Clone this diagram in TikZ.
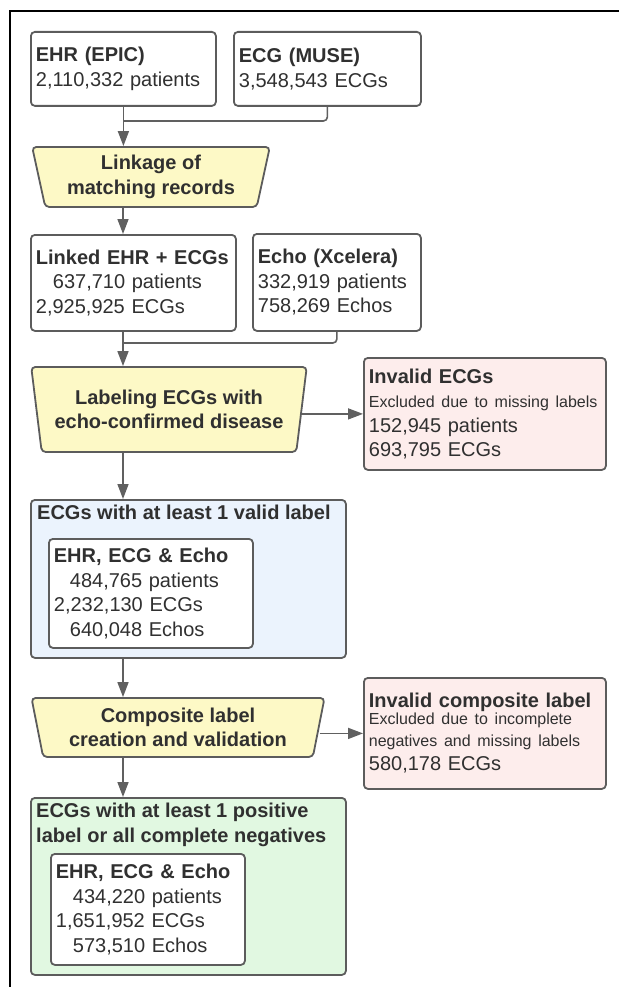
\documentclass[tikz,border=0pt]{standalone}
\usepackage{fontspec}
\setmainfont{Liberation Sans}
\usetikzlibrary{shapes.geometric,arrows.meta,calc}
\definecolor{bordc}{HTML}{5C5C5C}
\definecolor{linec}{HTML}{606060}
\definecolor{txtc}{HTML}{303030}
\definecolor{yel}{HTML}{FDF9C6}
\definecolor{pinkc}{HTML}{FDEDEC}
\definecolor{bluec}{HTML}{EBF3FD}
\definecolor{greenc}{HTML}{E1F8E1}
\tikzset{
 base/.style={draw=bordc, line width=1.8pt, rounded corners=4pt, text=txtc, font=\fontsize{20}{24.5}\selectfont},
 box/.style={base, fill=white, anchor=north west, align=left, inner xsep=5pt, inner ysep=0pt},
 proc/.style={base, fill=yel, shape=trapezium, trapezium angle=76.5, shape border rotate=180, trapezium stretches=true, align=center, inner xsep=0pt, inner ysep=0pt, font=\bfseries\fontsize{20}{24.5}\selectfont},
 ttl/.style={anchor=north west, inner sep=0pt, text=txtc, align=left, font=\bfseries\fontsize{20}{24.5}\selectfont},
 conn/.style={draw=linec, line width=1.6pt},
 arr/.style={conn, -{Triangle[length=15pt,width=11pt]}},
}
\newcommand\smallfs{\fontsize{16}{20}\selectfont}
\begin{document}
\begin{tikzpicture}[x=1pt,y=-1pt]
\useasboundingbox (0,0) rectangle (619,987);
\draw[black, line width=1.3pt] (619,11) -- (10,11) -- (10,987);
\coordinate (spine) at (123,0);

\node[box, minimum width=185, minimum height=74, text width=175] (ehr) at (30,31) {\textbf{EHR (EPIC)}\\2,110,332 patients};
\node[box, minimum width=187, minimum height=74, text width=177] (ecg) at (233,31) {\textbf{ECG (MUSE)}\\3,548,543 ECGs};
\node[proc, minimum width=238, minimum height=60] (link) at (151,177) {Linkage of\\matching records};
\coordinate (j1) at (123,121);
\draw[conn, rounded corners=4pt] (ecg.south) |- (j1);
\draw[arr] (ehr.south) -- (ehr.south |- link.north);

\node[box, minimum width=205, minimum height=96, text width=195] (linked) at (30,234) {\textbf{Linked EHR + ECGs}\\\hspace*{17pt}637,710 patients\\2,925,925 ECGs};
\node[box, minimum width=168, minimum height=97, text width=158] (echo) at (252,233) {\textbf{Echo (Xcelera)}\\332,919 patients\\758,269 Echos};
\draw[arr] (spine |- link.south) -- (spine |- linked.north);
\node[proc, minimum width=276, minimum height=85] (lab) at (169,409.5) {Labeling ECGs with\\echo-confirmed disease};
\coordinate (j2) at (123,343);
\draw[conn, rounded corners=4pt] (echo.south) |- (j2);
\draw[arr] (spine |- linked.south) -- (spine |- lab.north);

\node[box, fill=pinkc, minimum width=242, minimum height=112, text width=232] (inv1) at (363,357) {\textbf{Invalid ECGs}\\{\smallfs Excluded due to missing labels}\\152,945 patients\\693,795 ECGs};
\draw[arr] (inv1.west -| lab.east) -- (inv1.west);

\node[box, fill=bluec, minimum width=315, minimum height=158] (blue) at (30,499) {};
\node[ttl] (bluet) at (37,505) {ECGs with at least 1 valid label};
\node[box, minimum width=204, minimum height=109, text width=194] (in1) at (48,538) {\textbf{EHR, ECG \& Echo}\\\hspace*{16pt}484,765 patients\\2,232,130 ECGs\\\hspace*{16pt}640,048 Echos};
\draw[arr] (spine |- lab.south) -- (spine |- blue.north);

\node[proc, minimum width=294, minimum height=59] (comp) at (178,727.5) {Composite label\\creation and validation};
\draw[arr] (spine |- blue.south) -- (spine |- comp.north);
\node[box, fill=pinkc, minimum width=242, minimum height=111, text width=232] (inv2) at (363,677) {\textbf{Invalid composite label}\\[-3pt]{\smallfs Excluded due to incomplete\\[-3pt]negatives and missing labels}\\580,178 ECGs};
\draw[arr] (inv2.west -| comp.east) -- (inv2.west);

\node[box, fill=greenc, minimum width=315, minimum height=177] (green) at (30,797) {};
\node[ttl] (greent) at (36,803) {ECGs with at least 1 positive\\label or all complete negatives};
\node[box, minimum width=194, minimum height=111, text width=184] (in2) at (50,853) {\textbf{EHR, ECG \& Echo}\\\hspace*{17pt}434,220 patients\\1,651,952 ECGs\\\hspace*{17pt}573,510 Echos};
\draw[arr] (spine |- comp.south) -- (spine |- green.north);
\end{tikzpicture}
\end{document}
